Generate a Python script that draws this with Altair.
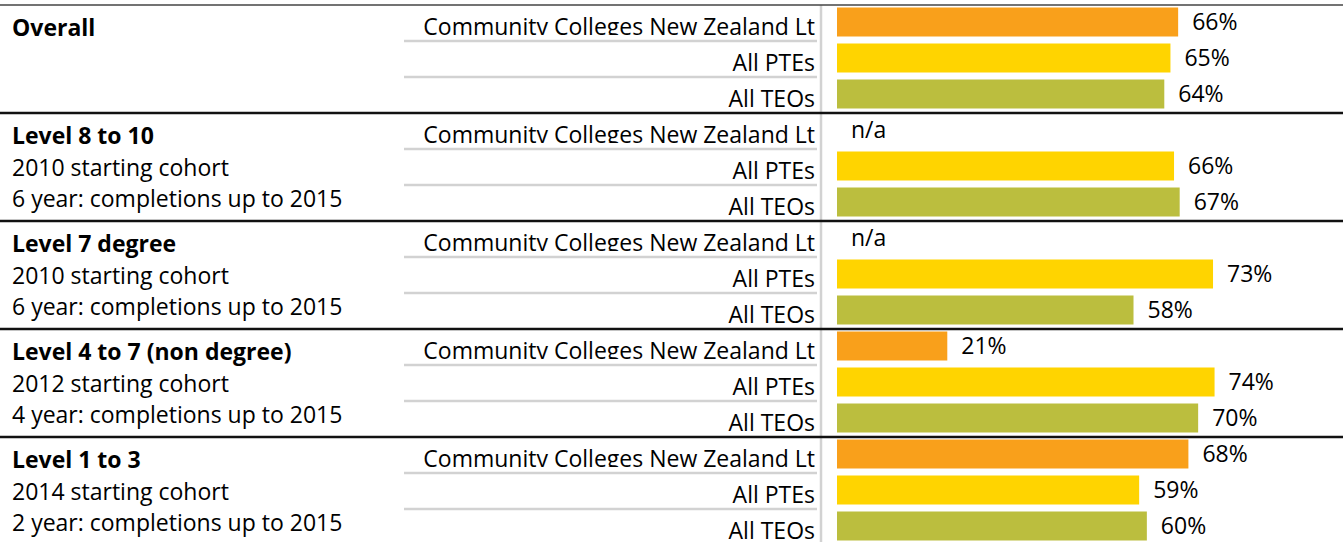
import altair as alt
import pandas as pd

# ---- data ----
groups = ["Overall", "Level 8 to 10", "Level 7 degree", "Level 4 to 7 (non degree)", "Level 1 to 3"]
cohorts = ["", "2010 starting cohort", "2010 starting cohort", "2012 starting cohort", "2014 starting cohort"]
spans = ["", "6 year: completions up to 2015", "6 year: completions up to 2015",
         "4 year: completions up to 2015", "2 year: completions up to 2015"]
providers = ["Community Colleges New Zealand Lt", "All PTEs", "All TEOs"]

ccnz = [66.5, None, None, 21.5, 68.5]
ptes = [65.0, 65.7, 73.3, 73.6, 58.9]
teos = [63.8, 66.8, 57.8, 70.4, 60.4]
ccnz_lbl = ["66%", "n/a", "n/a", "21%", "68%"]
ptes_lbl = ["65%", "66%", "73%", "74%", "59%"]
teos_lbl = ["64%", "67%", "58%", "70%", "60%"]

colors = ["#F9A01B", "#FFD400", "#BBBE3E"]
FONT = "Open Sans"
FS = 23

records = []
for g in range(len(groups)):
    vals = [ccnz[g], ptes[g], teos[g]]
    lbls = [ccnz_lbl[g], ptes_lbl[g], teos_lbl[g]]
    left = [groups[g], cohorts[g], spans[g]]
    for p in range(3):
        records.append(dict(row=g * 3 + p, provider=providers[p], pidx=p,
                            value=vals[p], label=lbls[p], left=left[p]))
df = pd.DataFrame(records)
n_rows = len(df)
row_ids = list(range(n_rows))

group_lines = pd.DataFrame({"pos": [g * 3 for g in range(1, len(groups))]})
top_line = pd.DataFrame({"pos": [0]})
sep_lines = pd.DataFrame({"pos": [g * 3 + k for g in range(len(groups)) for k in (1, 2)]})
clip_lines = pd.DataFrame({"pos": [g * 3 + 1 for g in range(len(groups))]})
vline = pd.DataFrame({"a": [0], "b": [n_rows]})

W, H = 1343, 537
YR = [0, 540]  # rows continue just past the bottom edge, as in the reference

band = alt.Scale(domain=row_ids, range=YR, paddingInner=0.19, paddingOuter=0.095)
pts = alt.Scale(domain=row_ids, range=YR)
xs = alt.Scale(domain=[0, 100], range=[837, 1350])
ysq = alt.Scale(domain=[0, n_rows], range=YR, nice=False, zero=False)

base = alt.Chart(df)

bars = base.transform_filter("isValid(datum.value)").mark_bar(yOffset=-1).encode(
    y=alt.Y("row:O", scale=band, axis=None),
    x=alt.X("value:Q", scale=xs, axis=None),
    color=alt.Color("provider:N", scale=alt.Scale(domain=providers, range=colors), legend=None),
)

values = base.transform_calculate(
    xv="isValid(datum.value) ? datum.value : 0"
).mark_text(align="left", baseline="middle", dx=14, font=FONT, fontSize=FS, color="#000").encode(
    y=alt.Y("row:O", scale=pts, axis=None),
    x=alt.X("xv:Q", scale=xs, axis=None),
    text="label:N",
)

prov = base.mark_text(align="right", baseline="alphabetic", dy=11.5, font=FONT, fontSize=FS,
                      color="#000").encode(
    y=alt.Y("row:O", scale=pts, axis=None),
    x=alt.value(815),
    text="provider:N",
)

# the reference cuts the long provider name just below its baseline
mask = alt.Chart(clip_lines).mark_rule(color="white", strokeWidth=5.4, yOffset=-3.4).encode(
    y=alt.Y("pos:Q", scale=ysq, axis=None), x=alt.value(404), x2=alt.value(818))

title_t = base.transform_filter("datum.pidx == 0").mark_text(
    align="left", baseline="alphabetic", dy=12.5, font=FONT, fontSize=FS, fontWeight="bold", color="#000"
).encode(y=alt.Y("row:O", scale=pts, axis=None), x=alt.value(12), text="left:N")

sub1 = base.transform_filter("datum.pidx == 1").mark_text(
    align="left", baseline="alphabetic", dy=9, font=FONT, fontSize=FS, color="#000"
).encode(y=alt.Y("row:O", scale=pts, axis=None), x=alt.value(12), text="left:N")

sub2 = base.transform_filter("datum.pidx == 2").mark_text(
    align="left", baseline="alphabetic", dy=4, font=FONT, fontSize=FS, color="#000"
).encode(y=alt.Y("row:O", scale=pts, axis=None), x=alt.value(12), text="left:N")

seps = alt.Chart(sep_lines).mark_rule(color="#d2d2d2", strokeWidth=2.5).encode(
    y=alt.Y("pos:Q", scale=ysq, axis=None), x=alt.value(404), x2=alt.value(817))

vrule = alt.Chart(vline).mark_rule(color="#d2d2d2", strokeWidth=2.5).encode(
    y=alt.Y("a:Q", scale=ysq, axis=None), y2="b:Q", x=alt.value(821))

glines = alt.Chart(group_lines).mark_rule(color="#111", strokeWidth=2.6).encode(
    y=alt.Y("pos:Q", scale=ysq, axis=None), x=alt.value(0), x2=alt.value(W))

tline = alt.Chart(top_line).mark_rule(color="#444", strokeWidth=1.5).encode(
    y=alt.Y("pos:Q", scale=ysq, axis=None), x=alt.value(0), x2=alt.value(W))

chart = alt.layer(
    bars, values, prov, mask, title_t, sub1, sub2, seps, vrule, glines, tline
).resolve_scale(y="independent").properties(
    width=W, height=H,
    padding={"left": 0, "top": 5, "right": 0, "bottom": 0},
    autosize=alt.AutoSizeParams(type="none"),
    background="white",
).configure_view(stroke=None)

chart.save("out.html", embed_options={"renderer": "svg", "actions": False})
